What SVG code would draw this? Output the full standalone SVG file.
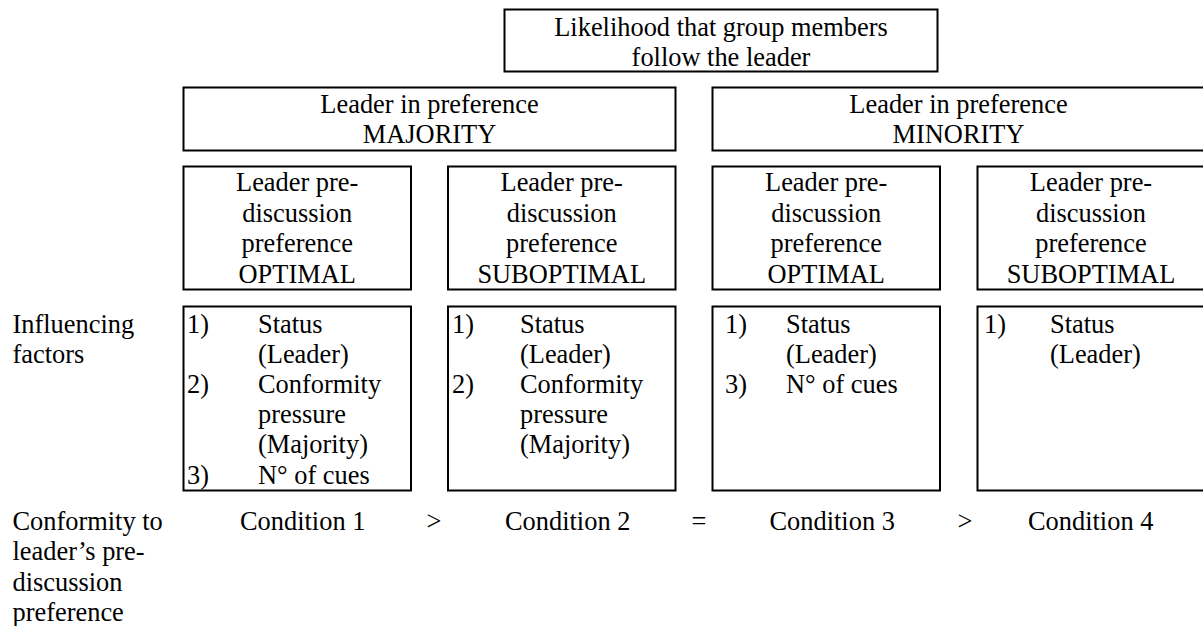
<svg xmlns="http://www.w3.org/2000/svg" width="1203" height="626" viewBox="0 0 1203 626">
<style>
rect{fill:#fff;stroke:#000;stroke-width:2}
text{font-family:"Liberation Serif","Times New Roman",serif;font-size:26.4px;fill:#000}
.c{text-anchor:middle}
</style>
<rect x="0" y="0" width="1203" height="626" style="stroke:none"/>
<g id="top">
<rect x="504.5" y="9.5" width="433" height="62"/>
<text class="c" x="721" y="35.5">Likelihood that group members</text>
<text class="c" x="721" y="65.5">follow the leader</text>
</g>
<g id="majority">
<rect x="183.5" y="87.5" width="492" height="63"/>
<text class="c" x="429.5" y="112.7">Leader in preference</text>
<text class="c" x="429.5" y="143.1">MAJORITY</text>
</g>
<g id="minority">
<rect x="712.5" y="87.5" width="492" height="63"/>
<text class="c" x="958.5" y="112.7">Leader in preference</text>
<text class="c" x="958.5" y="143.1">MINORITY</text>
</g>
<g id="pref1">
<rect x="183.5" y="166.5" width="227.5" height="123"/>
<text class="c" x="297.2" y="191"><tspan x="297.2">Leader pre-</tspan><tspan x="297.2" dy="30.6">discussion</tspan><tspan x="297.2" dy="30.6">preference</tspan><tspan x="297.2" dy="30.6">OPTIMAL</tspan></text>
</g>
<g id="pref2">
<rect x="448" y="166.5" width="227.5" height="123"/>
<text class="c" x="561.7" y="191"><tspan x="561.7">Leader pre-</tspan><tspan x="561.7" dy="30.6">discussion</tspan><tspan x="561.7" dy="30.6">preference</tspan><tspan x="561.7" dy="30.6">SUBOPTIMAL</tspan></text>
</g>
<g id="pref3">
<rect x="712.5" y="166.5" width="227.5" height="123"/>
<text class="c" x="826.2" y="191"><tspan x="826.2">Leader pre-</tspan><tspan x="826.2" dy="30.6">discussion</tspan><tspan x="826.2" dy="30.6">preference</tspan><tspan x="826.2" dy="30.6">OPTIMAL</tspan></text>
</g>
<g id="pref4">
<rect x="977.5" y="166.5" width="227.5" height="123"/>
<text class="c" x="1091" y="191"><tspan x="1091">Leader pre-</tspan><tspan x="1091" dy="30.6">discussion</tspan><tspan x="1091" dy="30.6">preference</tspan><tspan x="1091" dy="30.6">SUBOPTIMAL</tspan></text>
</g>
<g id="label-factors">
<text x="12.5" y="332.5">Influencing</text>
<text x="12.5" y="362.7">factors</text>
</g>
<g id="factors1">
<rect x="183.5" y="306.5" width="227.5" height="184"/>
<text x="187" y="332.5">1)</text><text x="258" y="332.5">Status</text>
<text x="258" y="362.7">(Leader)</text>
<text x="187" y="392.9">2)</text><text x="258" y="392.9">Conformity</text>
<text x="258" y="423.1">pressure</text>
<text x="258" y="453.3">(Majority)</text>
<text x="187" y="483.5">3)</text><text x="258" y="483.5">N° of cues</text>
</g>
<g id="factors2">
<rect x="448" y="306.5" width="227.5" height="184"/>
<text x="452" y="332.5">1)</text><text x="520" y="332.5">Status</text>
<text x="520" y="362.7">(Leader)</text>
<text x="452" y="392.9">2)</text><text x="520" y="392.9">Conformity</text>
<text x="520" y="423.1">pressure</text>
<text x="520" y="453.3">(Majority)</text>
</g>
<g id="factors3">
<rect x="712.5" y="306.5" width="227.5" height="184"/>
<text x="725" y="332.5">1)</text><text x="786" y="332.5">Status</text>
<text x="786" y="362.7">(Leader)</text>
<text x="725" y="392.9">3)</text><text x="786" y="392.9">N° of cues</text>
</g>
<g id="factors4">
<rect x="977.5" y="306.5" width="227.5" height="184"/>
<text x="984" y="332.5">1)</text><text x="1050" y="332.5">Status</text>
<text x="1050" y="362.7">(Leader)</text>
</g>
<g id="label-conformity">
<text x="12.5" y="530">Conformity to</text>
<text x="12.5" y="560.4">leader’s pre-</text>
<text x="12.5" y="590.8">discussion</text>
<text x="12.5" y="621.2">preference</text>
</g>
<g id="conditions">
<text x="240" y="530">Condition 1</text>
<text class="c" x="434" y="530">&gt;</text>
<text x="505" y="530">Condition 2</text>
<text class="c" x="699" y="530">=</text>
<text x="769.5" y="530">Condition 3</text>
<text class="c" x="965" y="530">&gt;</text>
<text x="1028" y="530">Condition 4</text>
</g>
</svg>
